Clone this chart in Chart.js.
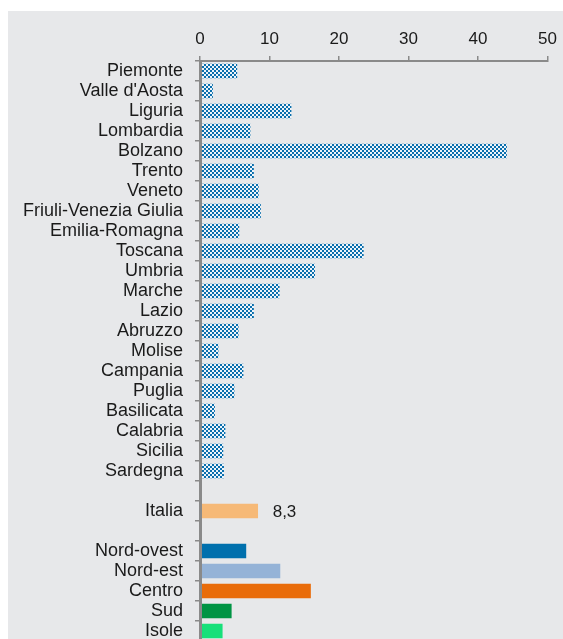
<!DOCTYPE html>
<html>
<head>
<meta charset="utf-8">
<script src="https://cdn.jsdelivr.net/npm/chart.js@4.4.1/dist/chart.umd.min.js"></script>
<style>
  html, body { margin: 0; padding: 0; background: #ffffff; overflow: hidden; }
  #panel { position: absolute; left: 8px; top: 11px; right: 0; height: 700px; background: #e7e8ea; }
  #chart { position: absolute; left: 0; top: 0; }
</style>
</head>
<body>
<div id="panel"></div>
<canvas id="chart" width="563" height="700"></canvas>
<script>
// categorie (le righe vuote separano i gruppi)
var regioni = ['Piemonte', "Valle d'Aosta", 'Liguria', 'Lombardia', 'Bolzano', 'Trento', 'Veneto',
  'Friuli-Venezia Giulia', 'Emilia-Romagna', 'Toscana', 'Umbria', 'Marche', 'Lazio', 'Abruzzo',
  'Molise', 'Campania', 'Puglia', 'Basilicata', 'Calabria', 'Sicilia', 'Sardegna'];
var valoriRegioni = [5.3, 1.8, 13.1, 7.2, 44.1, 7.7, 8.4, 8.7, 5.6, 23.5, 16.5, 11.4, 7.7, 5.5,
  2.6, 6.2, 4.9, 2.1, 3.6, 3.3, 3.4];
var italia = ['Italia'];
var valoreItalia = [8.3];
var ripartizioni = ['Nord-ovest', 'Nord-est', 'Centro', 'Sud', 'Isole'];
var valoriRipartizioni = [6.6, 11.5, 15.9, 4.5, 3.2];
var coloriRipartizioni = ['#0070ad', '#95b3d7', '#e96c0a', '#009444', '#17e07a'];
var xTicks = [0, 10, 20, 30, 40, 50];

// retino a scacchi per le regioni
function scacchi() {
  var c = document.createElement('canvas');
  c.width = 4; c.height = 4;
  var g = c.getContext('2d');
  g.fillStyle = '#eef4fa';
  g.fillRect(0, 0, 4, 4);
  g.fillStyle = '#0a6fad';
  g.fillRect(0, 0, 2, 2);
  g.fillRect(2, 2, 2, 2);
  return document.getElementById('chart').getContext('2d').createPattern(c, 'repeat');
}
var pat = scacchi();

var labels = [].concat(regioni, [''], italia, [''], ripartizioni);
var values = [].concat(valoriRegioni, [null], valoreItalia, [null], valoriRipartizioni);
var colors = [];
regioni.forEach(function() { colors.push(pat); });
colors.push('rgba(0,0,0,0)', '#f6b977', 'rgba(0,0,0,0)');
colors = colors.concat(coloriRipartizioni);

var idxItalia = regioni.length + 1;

var etichettaItalia = {
  id: 'etichettaItalia',
  afterDatasetsDraw: function(chart) {
    var bar = chart.getDatasetMeta(0).data[idxItalia];
    var ctx = chart.ctx;
    ctx.save();
    ctx.font = '17px "Liberation Sans", Arial, sans-serif';
    ctx.fillStyle = '#1a1a1a';
    ctx.textBaseline = 'middle';
    ctx.textAlign = 'left';
    ctx.fillText(String(valoreItalia[0]).replace('.', ','), bar.x + 15, bar.y + 1);
    ctx.restore();
  }
};

Chart.defaults.font.family = '"Liberation Sans", Arial, sans-serif';
Chart.defaults.color = '#1a1a1a';

new Chart(document.getElementById('chart'), {
  type: 'bar',
  data: {
    labels: labels,
    datasets: [{
      data: values,
      backgroundColor: colors,
      borderWidth: 0,
      barThickness: 14
    }]
  },
  options: {
    indexAxis: 'y',
    responsive: false,
    animation: false,
    devicePixelRatio: 1,
    layout: { padding: { left: 0, top: 0, right: 13, bottom: 59 } },
    plugins: { legend: { display: false }, tooltip: { enabled: false } },
    scales: {
      x: {
        position: 'top',
        min: 0,
        max: 50,
        afterFit: function(s) { s.height = 61; },
        afterBuildTicks: function(s) { s.ticks = xTicks.map(function(v) { return { value: v }; }); },
        grid: { drawOnChartArea: false, tickLength: 5, color: '#8a8a8a', lineWidth: 1.5 },
        border: { display: true, color: '#8a8a8a', width: 2, z: 1 },
        ticks: { font: { size: 17 }, padding: 6, color: '#1a1a1a' }
      },
      y: {
        afterFit: function(s) { s.width = 200; },
        grid: { offset: true, drawOnChartArea: false, tickLength: 5, color: '#8a8a8a', lineWidth: 1.5 },
        border: { display: true, color: '#8a8a8a', width: 3, z: 1 },
        ticks: { font: { size: 18 }, padding: 12, color: '#1a1a1a', autoSkip: false }
      }
    }
  },
  plugins: [etichettaItalia]
});
</script>
</body>
</html>
